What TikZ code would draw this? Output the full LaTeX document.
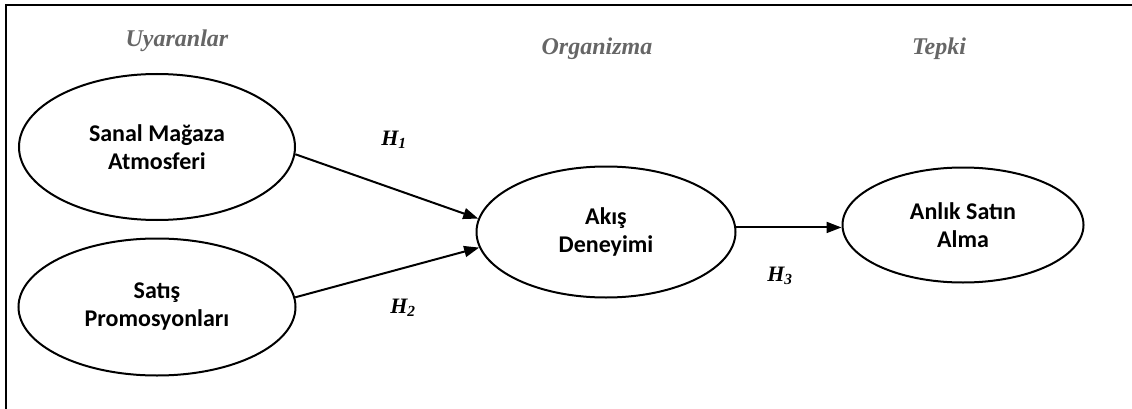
\documentclass[tikz,border=0pt]{standalone}
\usepackage{fontspec}
\setmainfont{Liberation Serif}
\newfontfamily\calib{Carlito}
\usepackage{tikz}
\usetikzlibrary{shapes.geometric,arrows.meta}
\definecolor{headgray}{HTML}{666666}

\begin{document}
\begin{tikzpicture}[x=1pt,y=-1pt,
    construct/.style={ellipse,draw,line width=2pt,inner sep=0pt,align=center,
      font=\calib\bfseries\fontsize{24}{28}\selectfont},
    stagehead/.style={text=headgray,font=\bfseries\itshape\fontsize{24}{28}\selectfont},
    hyplabel/.style={font=\bfseries\itshape\fontsize{22}{24}\selectfont},
    path/.style={line width=2pt,-{Triangle[length=15pt,width=11pt]}}]
  \useasboundingbox (0,0) rectangle (1132,409);
  % frame
  \coordinate (framecorner) at (6,5);
  \draw[line width=2.5pt] (1132,5) -- (framecorner) -- (6,409);
  % stages
  \node[stagehead] (uyaranlar) at (177,41) {Uyaranlar};
  \node[stagehead] (organizma) at (597,49) {Organizma};
  \node[stagehead] (tepki) at (939,49) {Tepki};
  % constructs
  \node[construct,minimum width=276,minimum height=146] (atmosfer) at (157,147) {Sanal Mağaza\\Atmosferi};
  \node[construct,minimum width=277,minimum height=137] (promosyon) at (157,307) {Satış\\Promosyonları};
  \node[construct,minimum width=259,minimum height=131] (akis) at (606,232) {Akış\\Deneyimi};
  \node[construct,minimum width=241,minimum height=115] (anlik) at (963,225) {Anlık Satın\\Alma};
  % hypotheses
  \draw[path] (atmosfer.-3) -- (akis.174);
  \draw[path] (promosyon.4) -- (akis.187);
  \draw[path] (akis.2) -- (akis.2 -| anlik.west);
  \node[hyplabel] (h1) at (394,140) {H\textsubscript{1}};
  \node[hyplabel] (h2) at (403,308) {H\textsubscript{2}};
  \node[hyplabel] (h3) at (780,276) {H\textsubscript{3}};
\end{tikzpicture}
\end{document}
